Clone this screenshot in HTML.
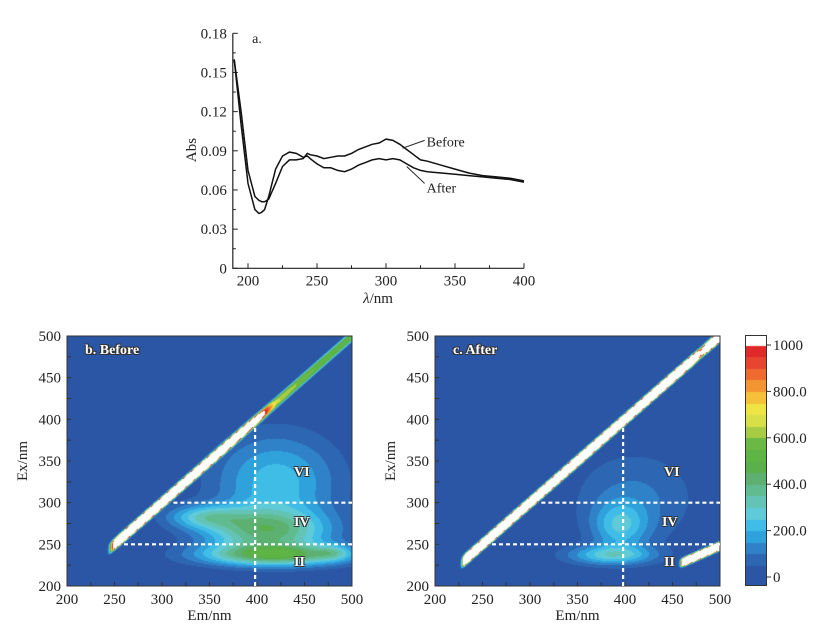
<!DOCTYPE html>
<html><head><meta charset="utf-8">
<style>
body{margin:0;background:#fff;width:834px;height:641px;overflow:hidden;position:relative;font-family:"Liberation Serif",serif;color:#222}
svg{position:absolute;left:0;top:0}
canvas{position:absolute}
.lbl{position:absolute;color:#fff;font-family:"Liberation Serif",serif;font-weight:bold;font-size:14px;text-shadow:-1px -1px 0 #333,1px -1px 0 #333,-1px 1px 0 #333,1px 1px 0 #333}
</style></head><body>
<svg id="top" width="834" height="641"></svg>
<canvas id="cb" width="285" height="250" style="left:67px;top:336px"></canvas>
<canvas id="ca" width="285" height="250" style="left:435px;top:336px"></canvas>
<canvas id="cbar" width="22" height="251" style="left:745px;top:335px"></canvas>
<svg id="ov" width="834" height="641"></svg>
<div class="lbl" style="left:85px;top:343px">b. Before</div>
<div class="lbl" style="left:453px;top:343px">c. After</div>
<div class="lbl" style="left:294px;top:465px">VI</div>
<div class="lbl" style="left:294px;top:515px">IV</div>
<div class="lbl" style="left:294px;top:555px">II</div>
<div class="lbl" style="left:664px;top:465px">VI</div>
<div class="lbl" style="left:662px;top:515px">IV</div>
<div class="lbl" style="left:664px;top:555px">II</div>
<script>
// ---- Absorbance data ----
const wl = [190,195,200,205,208,210,212,215,220,225,230,235,240,243,245,250,255,260,265,270,275,280,285,290,295,300,305,310,315,320,325,330,340,350,360,370,380,390,400];
const absBefore = [0.160,0.120,0.075,0.055,0.052,0.051,0.051,0.053,0.065,0.078,0.083,0.083,0.084,0.088,0.087,0.086,0.084,0.085,0.086,0.086,0.088,0.091,0.093,0.095,0.096,0.099,0.098,0.095,0.091,0.087,0.083,0.082,0.079,0.076,0.073,0.071,0.070,0.069,0.067];
const absAfter = [0.160,0.110,0.065,0.045,0.042,0.043,0.045,0.055,0.076,0.086,0.089,0.088,0.085,0.086,0.084,0.080,0.077,0.077,0.075,0.074,0.076,0.079,0.081,0.083,0.084,0.083,0.084,0.083,0.080,0.077,0.075,0.074,0.073,0.072,0.071,0.070,0.069,0.068,0.066];
const xTicks = [200,250,300,350,400];
const yTicks = [0,0.03,0.06,0.09,0.12,0.15,0.18];
// ---- EEM data ----
const emTicks=[200,250,300,350,400,450,500];
const exTicks=[200,250,300,350,400,450,500];
const cbTicks=[0,200,400,600,800,1000];
const cbLabels=["0","200.0","400.0","600.0","800.0","1000"];
const bandEmBefore=[245,260,300,350,390,420,460,500];
const bandAmpBefore=[700,2500,2500,2200,1500,650,550,500];
const bandEmAfter=[230,260,300,350,400,450,470,480,490,500];
const bandAmpAfter=[2500,2600,2600,2600,2600,2600,2000,980,2000,2500];
// peaks: [em, ex, sigmaEm, sigmaEx, amp]
const peaksBefore=[[420,237,55,9,420],[410,266,45,18,370],[420,325,45,40,230],[345,283,28,10,230],[480,240,12,6,120]];
const peaksAfter=[[385,237,32,8,250],[395,272,20,20,200],[410,305,45,40,110]];
const secondOrderAfter=[460,500,2200];
const levels=[50,100,150,200,250,300,350,400,450,500,550,600,650,700,750,800,850,900,950,1000];
const colors=["#2a56a5","#2d66b2","#3082c8","#2fa2dc","#40bde6","#5fcad8","#63c4b5","#60bc90","#5cb070","#5ab04a","#5cb544","#6cb845","#a6cc44","#d8e048","#eee444","#f5c13a","#f39532","#ee6a2e","#e84530","#e02a2a","#ffffff"];

const NS="http://www.w3.org/2000/svg";
function mk(svg,tag,attrs,name){const e=document.createElementNS(NS,tag);for(const k in attrs)e.setAttribute(k,attrs[k]);


svg.appendChild(e);return e;}
function txt(svg,x,y,s,name,anchor,extra){const t=mk(svg,'text',Object.assign({x:x,y:y,'font-family':'Liberation Serif, serif','font-size':15,fill:'#222','text-anchor':anchor||'middle'},extra||{}),name);t.textContent=s;return t;}

// ---- top chart ----
const T=document.getElementById('top');
const X=v=>248+(v-200)*1.38, Y=v=>268.3-v/0.18*235;
mk(T,'path',{d:`M${X(189)},${Y(0.18)}V${Y(0)}H${X(400)}`,stroke:'#222',fill:'none','stroke-width':1.2},'axes');
for(let v=0;v<=0.1801;v+=0.015){mk(T,'line',{x1:X(189),x2:X(189)+(Math.round(v*1000)%30===0?5:3),y1:Y(v),y2:Y(v),stroke:'#222'},'y-tick');}
for(let v=200;v<=400;v+=25){mk(T,'line',{x1:X(v),x2:X(v),y1:Y(0),y2:Y(0)-(v%50===0?5:3),stroke:'#222'},'x-tick');}
yTicks.forEach(v=>txt(T,X(189)-6,Y(v)+5,v===0?'0':v.toFixed(2),'y-tick-label','end'));
xTicks.forEach(v=>txt(T,X(v),Y(0)+17,String(v),'x-tick-label'));
txt(T,0,0,'Abs','y-axis-title','middle',{transform:`translate(196,150) rotate(-90)`});
const lt=txt(T,378,303,'','x-axis-title');lt.innerHTML='<tspan font-style="italic">λ</tspan>/nm';
txt(T,257,43,'a.','panel-a-title','middle',{'font-size':14});
function line(d,name){mk(T,'path',{d:'M'+wl.map((w,i)=>X(w).toFixed(1)+','+Y(d[i]).toFixed(1)).join('L'),stroke:'#111',fill:'none','stroke-width':1.5},name);}
line(absBefore,'before-line');line(absAfter,'after-line');
mk(T,'line',{x1:X(312),y1:Y(0.092),x2:X(328),y2:Y(0.098),stroke:'#222'},'before-leader');
mk(T,'line',{x1:X(315),y1:Y(0.078),x2:X(328),y2:Y(0.065),stroke:'#222'},'after-leader');
txt(T,X(328)+2,Y(0.097)+5,'Before','before-label','start',{'font-size':14});
txt(T,X(328)+2,Y(0.062)+5,'After','after-label','start',{'font-size':14});

// ---- EEM ----
function interp(xs,ys,x){if(x<=xs[0])return ys[0];for(let i=1;i<xs.length;i++)if(x<=xs[i]){const t=(x-xs[i-1])/(xs[i]-xs[i-1]);return ys[i-1]+t*(ys[i]-ys[i-1]);}return ys[ys.length-1];}
function colorOf(v){for(let i=0;i<levels.length;i++)if(v<levels[i])return colors[i];return colors[colors.length-1];}
function hex(c){return [parseInt(c.substr(1,2),16),parseInt(c.substr(3,2),16),parseInt(c.substr(5,2),16)];}
function field(em,ex,bandEm,bandAmp,peaks,so){
 let v=0;
 const a=interp(bandEm,bandAmp,em)/(1+Math.exp(-(em-bandEm[0])/1.0));
 v+=a*Math.exp(-Math.pow(Math.abs(ex-em)/6.5,4));
 peaks.forEach(p=>{v+=p[4]*Math.exp(-(Math.pow((em-p[0])/p[2],2)+Math.pow((ex-p[1])/p[3],2))/2);});
 if(so){const a2=so[2]/(1+Math.exp(-(em-so[0])/1.0));v+=a2*Math.exp(-Math.pow(Math.abs(ex-em/2+2)/5,4));}
 return v;}
function draw(id,bandEm,bandAmp,peaks,so){
 const c=document.getElementById(id),g=c.getContext('2d'),im=g.createImageData(285,250);
 for(let py=0;py<250;py++)for(let px=0;px<285;px++){
  const em=200+(px+0.5)/285*300, ex=500-(py+0.5)/250*300;
  const rgb=hex(colorOf(field(em,ex,bandEm,bandAmp,peaks,so)));const k=(py*285+px)*4;
  im.data[k]=rgb[0];im.data[k+1]=rgb[1];im.data[k+2]=rgb[2];im.data[k+3]=255;}
 g.putImageData(im,0,0);}
draw('cb',bandEmBefore,bandAmpBefore,peaksBefore,null);
draw('ca',bandEmAfter,bandAmpAfter,peaksAfter,secondOrderAfter);
// colorbar
(function(){const c=document.getElementById('cbar'),g=c.getContext('2d');
 for(let py=0;py<251;py++){const v=1000-(py+335-345)/232*1000;g.fillStyle=colorOf(v>1000?1001:Math.max(v,0));g.fillRect(0,py,22,1);}})();
const O=document.getElementById('ov');
mk(O,'rect',{x:745.5,y:335.5,width:21,height:250,fill:'none',stroke:'#333'},'colorbar-frame');
cbTicks.forEach((v,i)=>{const y=577-v/1000*232;mk(O,'line',{x1:767,x2:771,y1:y,y2:y,stroke:'#333'},'colorbar-tick');txt(O,773,y+5,cbLabels[i],'colorbar-label','start');});
function axes(x0,tag){
 const EX=v=>x0+(v-200)/300*285, EY=v=>586-(v-200)/300*250;
 mk(O,'rect',{x:x0,y:336,width:285,height:250,fill:'none',stroke:'#333','stroke-width':1},tag+'-frame');
 for(let v=200;v<=500;v+=25){mk(O,'line',{x1:EX(v),x2:EX(v),y1:586,y2:582,stroke:'#333'},'em-tick');mk(O,'line',{x1:x0,x2:x0+4,y1:EY(v),y2:EY(v),stroke:'#333'},'ex-tick');}
 emTicks.forEach(v=>txt(O,EX(v),604,String(v),'em-tick-label'));
 exTicks.forEach(v=>txt(O,x0-6,EY(v)+5,String(v),'ex-tick-label','end'));
 txt(O,EX(350),620,'Em/nm','x-axis-title');
 txt(O,0,0,'Ex/nm','y-axis-title','middle',{transform:`translate(${x0-40},461) rotate(-90)`});
 const ds={stroke:'#fff','stroke-width':2.2,'stroke-dasharray':'4,3'};
 mk(O,'line',Object.assign({x1:EX(398),x2:EX(398),y1:586,y2:EY(392)},ds),'divider-em-398');
 mk(O,'line',Object.assign({x1:EX(312),x2:EX(500),y1:EY(300),y2:EY(300)},ds),'divider-ex-300');
 mk(O,'line',Object.assign({x1:EX(260),x2:EX(500),y1:EY(250),y2:EY(250)},ds),'divider-ex-250');
}
axes(67,'before');axes(435,'after');
</script>
</body></html>
